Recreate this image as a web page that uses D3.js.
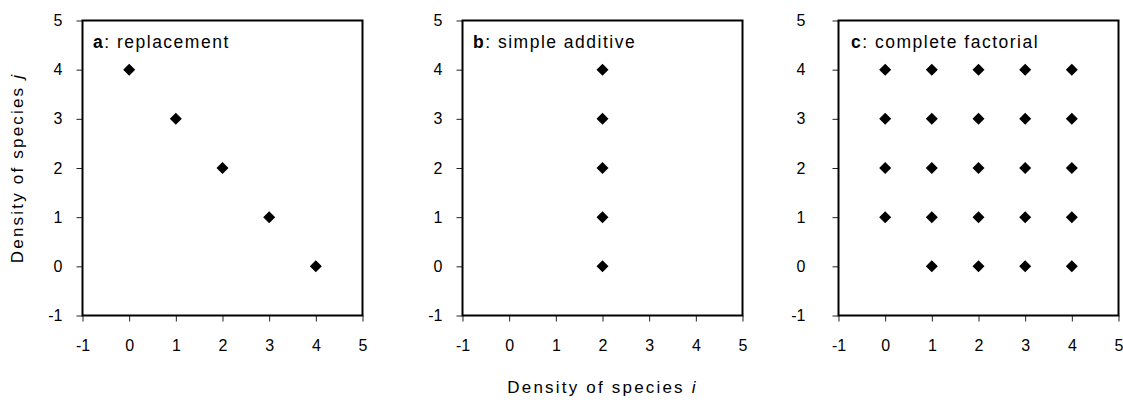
<!DOCTYPE html>
<html>
<head>
<meta charset="utf-8">
<script src="https://cdn.jsdelivr.net/npm/d3@7"></script>
<style>
  html, body { margin: 0; padding: 0; background: #fff; }
  svg { display: block; font-family: Arial, "Liberation Sans", sans-serif; }
</style>
</head>
<body>
<svg id="chart" width="1123" height="404"></svg>
<script>
// Axis ticks shared by every panel (both axes run -1 … 5)
const tickValues = [-1, 0, 1, 2, 3, 4, 5];

// Panel headings
const panelLetters = ["a", "b", "c"];
const panelNames = ["replacement", "simple additive", "complete factorial"];

// Design points: density of species i (x) and species j (y)
const replacementI = [0, 1, 2, 3, 4];
const replacementJ = [4, 3, 2, 1, 0];

const additiveI = [2, 2, 2, 2, 2];
const additiveJ = [4, 3, 2, 1, 0];

const factorialI = [0, 1, 2, 3, 4,  0, 1, 2, 3, 4,  0, 1, 2, 3, 4,  0, 1, 2, 3, 4,  1, 2, 3, 4];
const factorialJ = [4, 4, 4, 4, 4,  3, 3, 3, 3, 3,  2, 2, 2, 2, 2,  1, 1, 1, 1, 1,  0, 0, 0, 0];

const xTitle = "Density of species ";
const xTitleVar = "i";
const yTitle = "Density of species ";
const yTitleVar = "j";

const designs = [
  { i: replacementI, j: replacementJ },
  { i: additiveI, j: additiveJ },
  { i: factorialI, j: factorialJ }
];

// Layout of the three plot frames
const layout = [
  { left: 82.5, yPad: 14, titleX: 10.5 },
  { left: 462.5, yPad: 14, titleX: 10.5 },
  { left: 838.5, yPad: 27, titleX: 12.5 }
];
const plotW = 280, plotTop = 20.5, plotH = 295;

// plain hyphen for negatives, as in the printed axes
const fmt = v => String(v);

const svg = d3.select("#chart");

designs.forEach((d, k) => {
  const L = layout[k];
  const g = svg.append("g").attr("transform", `translate(${L.left},${plotTop})`);

  const x = d3.scaleLinear().domain([-1, 5]).range([0, plotW]);
  const y = d3.scaleLinear().domain([-1, 5]).range([plotH, 0]);

  // y axis
  const ya = g.append("g")
    .call(d3.axisLeft(y).tickValues(tickValues).tickSize(6).tickPadding(L.yPad).tickFormat(fmt));
  ya.select(".domain").remove();
  ya.selectAll(".tick line").attr("stroke", "#222");
  ya.selectAll(".tick text").attr("font-size", 16).attr("fill", "#000");

  // x axis
  const xa = g.append("g").attr("transform", `translate(0,${plotH})`)
    .call(d3.axisBottom(x).tickValues(tickValues).tickSize(6).tickPadding(18).tickFormat(fmt));
  xa.select(".domain").remove();
  xa.selectAll(".tick line").attr("stroke", "#222");
  xa.selectAll(".tick text").attr("font-size", 16).attr("fill", "#000");

  // plot frame
  g.append("rect")
    .attr("x", 0).attr("y", 0)
    .attr("width", plotW).attr("height", plotH)
    .attr("fill", "none").attr("stroke", "#000").attr("stroke-width", 2);

  // panel heading
  const t = g.append("text")
    .attr("x", L.titleX).attr("y", 27)
    .attr("font-size", 17.5).attr("letter-spacing", 1.5).attr("fill", "#000");
  t.append("tspan").attr("font-weight", "bold").text(panelLetters[k]);
  t.append("tspan").text(": " + panelNames[k]);

  // design points as diamonds
  const diamond = d3.symbol().type(d3.symbolSquare).size(72);
  g.selectAll("path.pt")
    .data(d.i.map((v, n) => ({ i: v, j: d.j[n] })))
    .join("path")
    .attr("class", "pt")
    .attr("d", diamond)
    .attr("transform", p => `translate(${x(p.i)},${y(p.j)}) rotate(45)`)
    .attr("fill", "#000");
});

// shared axis titles
const xt = svg.append("text")
  .attr("x", layout[1].left + plotW / 2).attr("y", 393)
  .attr("text-anchor", "middle")
  .attr("font-size", 17).attr("letter-spacing", 2.2).attr("fill", "#000");
xt.append("tspan").text(xTitle);
xt.append("tspan").attr("font-style", "italic").text(xTitleVar);

const yt = svg.append("text")
  .attr("transform", `translate(23,${plotTop + plotH / 2}) rotate(-90)`)
  .attr("text-anchor", "middle")
  .attr("font-size", 17).attr("letter-spacing", 2.2).attr("fill", "#000");
yt.append("tspan").text(yTitle);
yt.append("tspan").attr("font-style", "italic").text(yTitleVar);
</script>
</body>
</html>
